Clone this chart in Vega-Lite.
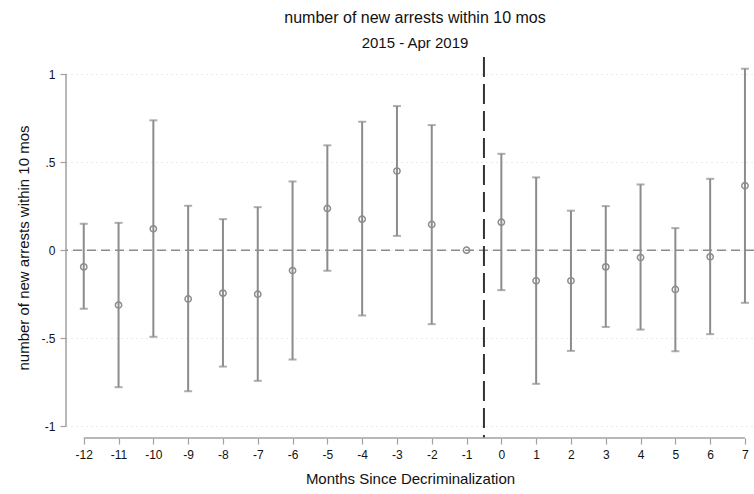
{
  "$schema": "https://vega.github.io/schema/vega-lite/v6.json",
  "autosize": "none",
  "width": 688,
  "height": 381,
  "padding": {"left": 66, "top": 57, "right": 0, "bottom": 56},
  "background": "white",
  "config": {
    "font": "Liberation Sans",
    "view": {"stroke": null}
  },
  "title": {
    "text": "number of new arrests within 10 mos",
    "subtitle": "2015 - Apr 2019",
    "anchor": "middle",
    "frame": "group",
    "offset": 5,
    "fontSize": 16,
    "fontWeight": "normal",
    "color": "#111",
    "subtitleFontSize": 15,
    "subtitleColor": "#111",
    "subtitlePadding": 10,
    "dx": 5
  },
  "datasets": {
    "est": [
      {"month": -12, "coef": -0.095, "lo": -0.333, "hi": 0.150},
      {"month": -11, "coef": -0.312, "lo": -0.778, "hi": 0.155},
      {"month": -10, "coef": 0.121, "lo": -0.492, "hi": 0.737},
      {"month": -9, "coef": -0.277, "lo": -0.801, "hi": 0.252},
      {"month": -8, "coef": -0.244, "lo": -0.661, "hi": 0.176},
      {"month": -7, "coef": -0.250, "lo": -0.742, "hi": 0.244},
      {"month": -6, "coef": -0.116, "lo": -0.621, "hi": 0.390},
      {"month": -5, "coef": 0.237, "lo": -0.117, "hi": 0.595},
      {"month": -4, "coef": 0.176, "lo": -0.371, "hi": 0.729},
      {"month": -3, "coef": 0.449, "lo": 0.081, "hi": 0.818},
      {"month": -2, "coef": 0.146, "lo": -0.420, "hi": 0.710},
      {"month": -1, "coef": 0.0, "lo": null, "hi": null},
      {"month": 0, "coef": 0.159, "lo": -0.227, "hi": 0.547},
      {"month": 1, "coef": -0.174, "lo": -0.759, "hi": 0.413},
      {"month": 2, "coef": -0.174, "lo": -0.572, "hi": 0.224},
      {"month": 3, "coef": -0.095, "lo": -0.436, "hi": 0.250},
      {"month": 4, "coef": -0.042, "lo": -0.451, "hi": 0.373},
      {"month": 5, "coef": -0.223, "lo": -0.574, "hi": 0.125},
      {"month": 6, "coef": -0.038, "lo": -0.477, "hi": 0.405},
      {"month": 7, "coef": 0.366, "lo": -0.299, "hi": 1.030}
    ],
    "xaxis": [{"x1": -12, "x2": 7, "y": -1.0665}],
    "yaxis": [{"x": -12.51, "y1": -1, "y2": 1}],
    "zero": [{"y": 0}],
    "cut": [{"x": -0.5}]
  },
  "layer": [
    {
      "data": {"name": "est"},
      "transform": [{"filter": "datum.lo != null"}],
      "mark": {"type": "rule", "color": "#8c8c8c", "strokeWidth": 2},
      "encoding": {
        "x": {
          "field": "month", "type": "quantitative",
          "scale": {"domain": [-12.51, 7.26], "nice": false, "zero": false},
          "axis": {
            "values": [-12, -11, -10, -9, -8, -7, -6, -5, -4, -3, -2, -1, 0, 1, 2, 3, 4, 5, 6, 7],
            "tickCount": 20,
            "labelExpr": "'' + datum.value",
            "labelOverlap": false,
            "labelFlush": false,
            "domain": false,
            "grid": false,
            "ticks": true,
            "tickSize": 6,
            "tickColor": "#a0a0a0",
            "tickWidth": 1.2,
            "labelFontSize": 12,
            "labelColor": "#111",
            "labelPadding": 5,
            "title": "Months Since Decriminalization",
            "titleFontSize": 15,
            "titleFontWeight": "normal",
            "titleColor": "#111",
            "titlePadding": 11
          }
        },
        "y": {
          "field": "lo", "type": "quantitative",
          "scale": {"domain": [-1.0665, 1.0966], "nice": false, "zero": false},
          "axis": {
            "values": [-1, -0.5, 0, 0.5, 1],
            "labelExpr": "datum.value == 0 ? '0' : datum.value == 1 ? '1' : datum.value == -1 ? '-1' : datum.value == 0.5 ? '.5' : '-.5'",
            "domain": false,
            "ticks": true,
            "tickSize": 6,
            "tickColor": "#a0a0a0",
            "tickWidth": 1.2,
            "labelFontSize": 12,
            "labelColor": "#111",
            "labelPadding": 5,
            "grid": true,
            "gridColor": "#d4d4d4",
            "gridDash": [1, 4],
            "gridWidth": 1,
            "title": "number of new arrests within 10 mos",
            "titleFontSize": 15,
            "titleFontWeight": "normal",
            "titleColor": "#111",
            "titlePadding": 9
          }
        },
        "y2": {"field": "hi"}
      }
    },
    {
      "data": {"name": "zero"},
      "mark": {"type": "rule", "color": "#8c8c8c", "strokeWidth": 1.5, "strokeDash": [9, 5]},
      "encoding": {
        "y": {"field": "y", "type": "quantitative"}
      }
    },
    {
      "data": {"name": "cut"},
      "mark": {"type": "rule", "color": "#333333", "strokeWidth": 2, "strokeDash": [20, 7]},
      "encoding": {
        "x": {"field": "x", "type": "quantitative"}
      }
    },
    {
      "data": {"name": "xaxis"},
      "mark": {"type": "rule", "color": "#a0a0a0", "strokeWidth": 1.5},
      "encoding": {
        "x": {"field": "x1", "type": "quantitative"},
        "x2": {"field": "x2"},
        "y": {"field": "y", "type": "quantitative"}
      }
    },
    {
      "data": {"name": "yaxis"},
      "mark": {"type": "rule", "color": "#a0a0a0", "strokeWidth": 1.5},
      "encoding": {
        "x": {"field": "x", "type": "quantitative"},
        "y": {"field": "y1", "type": "quantitative"},
        "y2": {"field": "y2"}
      }
    },
    {
      "data": {"name": "est"},
      "transform": [{"filter": "datum.lo != null"}],
      "mark": {"type": "tick", "orient": "horizontal", "color": "#8c8c8c", "size": 8, "thickness": 2},
      "encoding": {
        "x": {"field": "month", "type": "quantitative"},
        "y": {"field": "lo", "type": "quantitative"}
      }
    },
    {
      "data": {"name": "est"},
      "transform": [{"filter": "datum.lo != null"}],
      "mark": {"type": "tick", "orient": "horizontal", "color": "#8c8c8c", "size": 8, "thickness": 2},
      "encoding": {
        "x": {"field": "month", "type": "quantitative"},
        "y": {"field": "hi", "type": "quantitative"}
      }
    },
    {
      "data": {"name": "est"},
      "mark": {"type": "point", "shape": "circle", "filled": false, "stroke": "#8c8c8c", "strokeWidth": 1.5, "size": 40, "opacity": 1},
      "encoding": {
        "x": {"field": "month", "type": "quantitative"},
        "y": {"field": "coef", "type": "quantitative"}
      }
    }
  ]
}
